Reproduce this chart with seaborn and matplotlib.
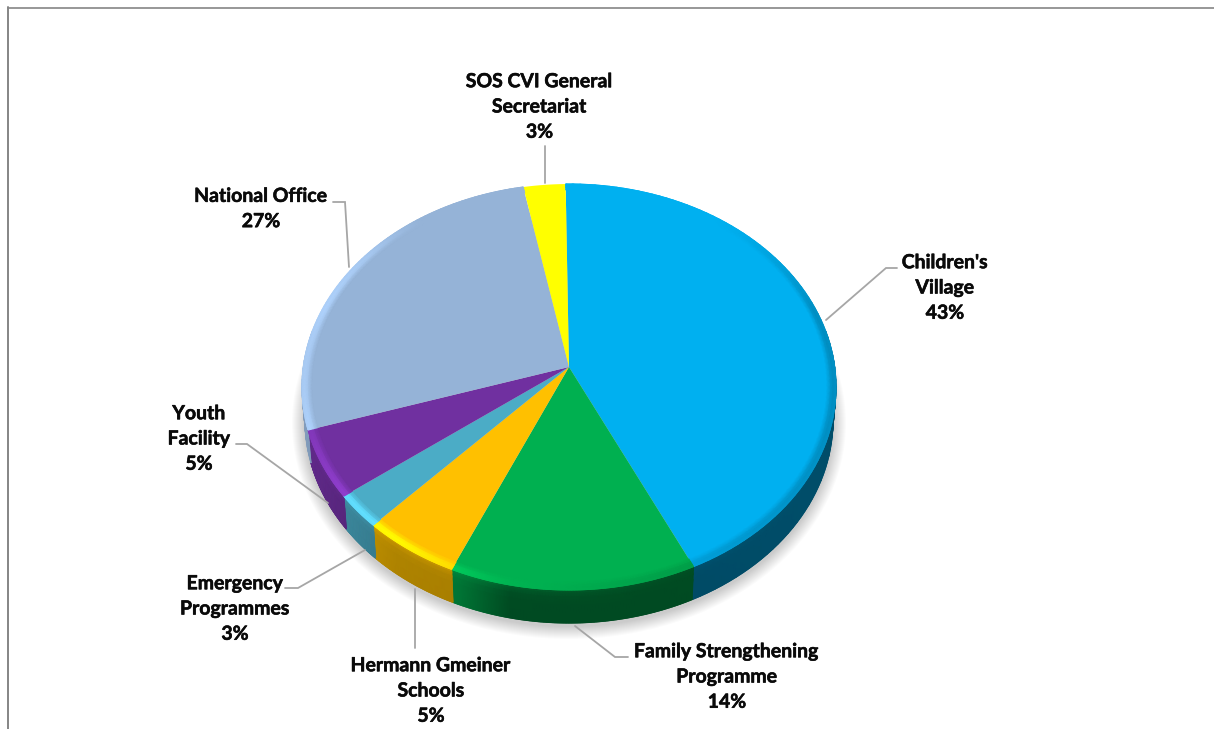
import numpy as np
import matplotlib
matplotlib.use("Agg")
import matplotlib.pyplot as plt
import matplotlib.patheffects as pe
import seaborn as sns
from matplotlib.collections import LineCollection
from matplotlib.patches import Ellipse
from matplotlib.path import Path
from matplotlib.transforms import Affine2D, Transform

# Share of each programme area, in percent
categories = ["Children's\nVillage", "Family Strengthening\nProgramme",
              "Hermann Gmeiner\nSchools", "Emergency\nProgrammes",
              "Youth\nFacility", "National Office",
              "SOS CVI General\nSecretariat"]
shares = [43.2, 13.6, 5.4, 2.7, 5.4, 26.9, 2.8]
colors = ["#00B0F0", "#00B050", "#FFC000", "#4BACC6", "#7030A0", "#95B3D7", "#FFFF00"]

# Label centres and leader-line routes, in pixels of the canvas
label_xy = [(945, 288), (727, 677), (431, 691), (235, 609), (199, 439), (261, 209), (539.5, 107)]
leaders = [[(826, 320), (886, 268), (897, 268)],
           [(575, 626), (615, 657), (628, 657)],
           [(415, 589), (415, 648)],
           [(365, 550), (298, 588), (285, 588)],
           [(328, 503), (247, 444), (236, 444)],
           [(349, 267), (345, 202), (333, 202)],
           [(545, 183), (545, 146)]]

# Tilted-disc geometry
APEX_X, APEX_Y = 569.0, 367.0
K, A, B = 0.0985, 265.7, 201.0
ELL_CY, DEPTH, SIDE_SCALE = 387.0, 33.0, 264.0 / 267.0


def tilt(u, v):
    """Project unit-disc coordinates onto the tilted top face."""
    w = 1 + K * v
    return APEX_X + A * u / w, APEX_Y - B * v / w


class TiltTransform(Transform):
    input_dims = output_dims = 2
    is_separable = False
    has_inverse = False

    def transform_non_affine(self, values):
        x, y = tilt(values[:, 0], values[:, 1])
        return np.column_stack([x, y])

    def transform_path_non_affine(self, path):
        fine = Affine2D().scale(4000).transform_path(path)
        polys = fine.to_polygons(closed_only=True)
        return Path(self.transform_non_affine(polys[0] / 4000), closed=True)


sns.set_theme(style="white")
plt.rcParams["font.family"] = ["Lato", "DejaVu Sans"]
palette = sns.color_palette(colors)

fig = plt.figure(figsize=(12.14, 7.29), dpi=100, facecolor="white")
ax = fig.add_axes([0, 0, 1, 1])

wedges, _ = ax.pie(shares, colors=palette, startangle=90.8, counterclock=False,
                   wedgeprops={"linewidth": 0, "zorder": 5})
ax.set_aspect("auto")
ax.set_xlim(0, 1214)
ax.set_ylim(729, 0)
ax.axis("off")

to_canvas = TiltTransform() + ax.transData
for wedge in wedges:
    wedge.set_transform(to_canvas)
    wedge.set_clip_on(False)

# Soft drop shadow under the disc
for grow in np.linspace(1, 13, 13):
    ax.add_patch(Ellipse((APEX_X, ELL_CY + DEPTH + 3), 2 * 264 + 2 * grow, 2 * 203 + 2 * grow,
                         facecolor="black", edgecolor="none", alpha=0.016, zorder=1))

# Lighting along the rim, as a function of horizontal position
RIM_U = [-1.0, -0.8, -0.6, -0.38, -0.2, 0.3, 1.0]
WALL_F = [0.88, 0.78, 0.68, 0.66, 0.42, 0.42, 0.44]
WALL_TOP = [1.15, 1.15, 1.2, 1.2, 1.35, 1.12, 1.02]
BEVEL_F = [1.14, 1.30, 1.32, 1.14, 1.02, 0.92, 0.80]

wall_levels = np.array([0, 0.1, 0.22, 0.4, 1.0])
wall_mix = np.array([1.0, 0.55, 0.2, 0.05, 0.0])
bevel_rings = np.array([0.965, 0.98, 0.99, 1.0])
bevel_ramp = np.array([0.0, 0.75, 1.0, 0.9])

for wedge, color in zip(wedges, palette):
    base = np.array(color)
    theta = np.radians(np.linspace(wedge.theta1, wedge.theta2, 90))
    cu, sv = np.cos(theta), np.sin(theta)

    # Rim wall below the top face, only where it can be seen
    seen = sv < 0.2
    if seen.sum() > 1:
        x0, y0 = tilt(cu[seen], sv[seen])
        s = wall_levels[:, None]
        wx = APEX_X + (x0[None, :] - APEX_X) * (1 + (SIDE_SCALE - 1) * s)
        wy = y0[None, :] + DEPTH * s
        factor = np.interp(cu[seen], RIM_U, WALL_F)
        top = np.interp(cu[seen], RIM_U, WALL_TOP)
        gain = factor[None, :] * (1 + (top[None, :] - 1) * wall_mix[:, None])
        wall_rgb = np.clip(base[None, None, :] * gain[:, :, None], 0, 1)
        ax.pcolormesh(wx, wy, wall_rgb, shading="gouraud", zorder=3)
        pts = np.column_stack([wx[-1], wy[-1]])
        ax.add_collection(LineCollection(np.stack([pts[:-1], pts[1:]], axis=1),
                                         colors=wall_rgb[-1][:-1], linewidths=0.9, zorder=3),
                          autolim=False)

    # Rounded edge of the top face, lit from the left
    weight = np.clip((0.8 - sv) / 0.5, 0, 1)
    if weight.max() > 0:
        r = bevel_rings[:, None]
        bx, by = tilt(r * cu[None, :], r * sv[None, :])
        peak = np.interp(cu, RIM_U, BEVEL_F)
        gain = 1 + (peak[None, :] - 1) * bevel_ramp[:, None] * weight[None, :]
        bevel_rgb = np.clip(base[None, None, :] * gain[:, :, None], 0, 1)
        ax.pcolormesh(bx, by, bevel_rgb, shading="gouraud", zorder=6)
        pts = np.column_stack([bx[-1], by[-1]])
        ax.add_collection(LineCollection(np.stack([pts[:-1], pts[1:]], axis=1),
                                         colors=bevel_rgb[-1][:-1], linewidths=0.8, zorder=6),
                          autolim=False)

ax.set_xlim(0, 1214)
ax.set_ylim(729, 0)

# Leader lines and data labels
for route, (lx, ly), name, share in zip(leaders, label_xy, categories, shares):
    xs, ys = zip(*route)
    ax.plot(xs, ys, color="#A6A6A6", lw=1.3, solid_joinstyle="miter", zorder=4)
    ax.text(lx, ly, f"{name}\n{share:.0f}%", ha="center", va="center", ma="center",
            fontsize=14, fontweight="bold", color="#0A0A0A", linespacing=1.59, zorder=8,
            path_effects=[pe.withStroke(linewidth=0.4, foreground="#0A0A0A")])

# Chart-area frame along the top and left
ax.plot([8, 1214], [7.5, 7.5], color="#858585", lw=1.2, zorder=9, clip_on=False)
ax.plot([8, 8], [7, 729], color="#858585", lw=1.4, zorder=9, clip_on=False)

fig.savefig("out.png", dpi=100, facecolor="white")
